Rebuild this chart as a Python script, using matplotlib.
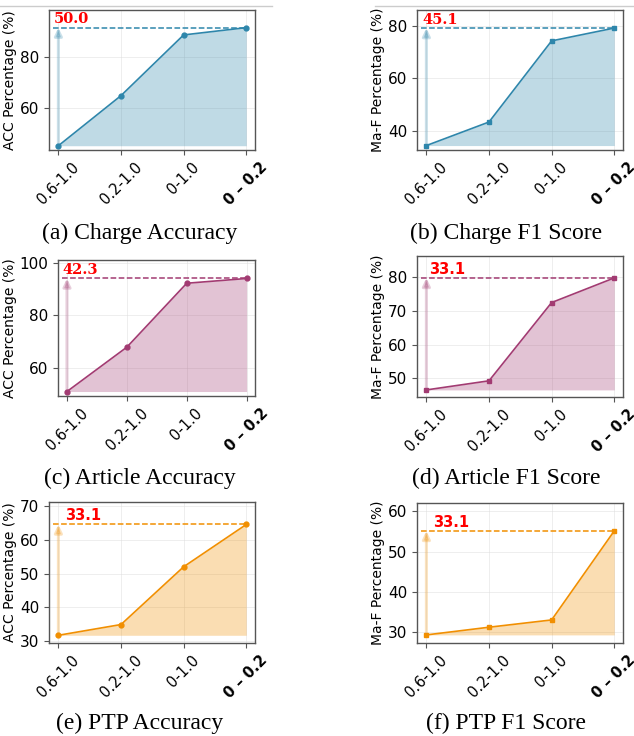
import numpy as np
import matplotlib
matplotlib.use("Agg")
import matplotlib.pyplot as plt
from matplotlib.lines import Line2D

# Data
buckets = ["0.6-1.0", "0.2-1.0", "0-1.0", "0 – 0.2"]

charge_acc = [44.9, 64.8, 88.9, 91.8]
charge_f1 = [34.3, 43.3, 74.3, 79.2]
article_acc = [51.2, 68.0, 92.2, 94.0]
article_f1 = [46.6, 49.3, 72.5, 79.8]
ptp_acc = [31.6, 34.8, 52.0, 64.6]
ptp_f1 = [29.4, 31.3, 33.1, 55.1]

gains = ["50.0", "45.1", "42.3", "33.1", "33.1", "33.1"]
captions = ["(a) Charge Accuracy", "(b) Charge F1 Score",
            "(c) Article Accuracy", "(d) Article F1 Score",
            "(e) PTP Accuracy", "(f) PTP F1 Score"]
ylabels = ["ACC Percentage (%)", "Ma-F Percentage (%)"] * 3
ylims = [(43.2, 98.8), (32.6, 86.1), (49.5, 101.0),
         (44.5, 86.3), (29.3, 71.3), (27.4, 62.0)]
yticks = [[60, 80], [40, 60, 80], [60, 80, 100],
          [50, 60, 70, 80], [30, 40, 50, 60, 70], [30, 40, 50, 60]]

series = [charge_acc, charge_f1, article_acc, article_f1, ptp_acc, ptp_f1]
colors = ["#2E86AB", "#2E86AB", "#A23B72", "#A23B72", "#F18F01", "#F18F01"]
markers = ["o", "s", "o", "s", "o", "s"]
gain_font = ["DejaVu Serif", "DejaVu Serif", "DejaVu Serif",
             "DejaVu Sans", "DejaVu Sans", "DejaVu Sans"]
gain_x = [-0.07, -0.07, -0.07, 0.04, 0.1, 0.1]

W, H = 634, 736
# axes boxes in pixels: left, top, right, bottom
boxes = [(49, 10, 255, 150), (417, 10, 623, 150),
         (58, 260, 255, 396), (417, 256, 623, 397),
         (49, 502, 255, 643), (417, 503, 623, 643)]
cap_pos = [(140, 233), (506, 233), (140, 478), (506, 478), (140, 723), (506, 723)]

fig = plt.figure(figsize=(W / 100, H / 100), dpi=100)

# thin rule at the top (from the page)
fig.add_artist(Line2D([0, 272 / W], [1 - 6 / H] * 2, color="#cccccc", lw=1))
fig.add_artist(Line2D([375 / W, 1], [1 - 6 / H] * 2, color="#cccccc", lw=1))

for i in range(6):
    l, t, r, b = boxes[i]
    ax = fig.add_axes([l / W, 1 - b / H, (r - l) / W, (b - t) / H])
    y = np.array(series[i])
    x = np.arange(len(y))
    c = colors[i]

    ax.fill_between(x, y, y.min(), color=c, alpha=0.3, lw=0)
    ax.plot(x, y, color=c, lw=1.2, marker=markers[i], markersize=3.5)
    ax.hlines(y.max(), -0.09, x[-1], colors=c, linestyles="--", lw=1.1)
    ax.annotate("", xy=(0, y.max()), xytext=(0, y.min()),
                arrowprops=dict(arrowstyle="-|>,head_width=0.22,head_length=0.45",
                                color=c, alpha=0.25, lw=2.2,
                                shrinkA=0, shrinkB=0))
    ax.text(gain_x[i], y.max() + (ylims[i][1] - ylims[i][0]) * 0.01, gains[i],
            color="red", fontsize=10.5, fontweight="bold", family=gain_font[i],
            ha="left", va="bottom")

    ax.set_xlim(-0.15, 3.14)
    ax.set_ylim(*ylims[i])
    ax.set_yticks(yticks[i])
    ax.set_xticks(x)
    ax.set_xticklabels(buckets, rotation=45, fontsize=10.5)
    ax.get_xticklabels()[-1].set_fontweight("bold")
    ax.tick_params(axis="y", labelsize=11)
    ax.tick_params(length=3.5, color="#555555")
    ax.set_ylabel(ylabels[i], fontsize=10, labelpad=2)
    ax.grid(True, color="#dddddd", lw=0.5, alpha=0.7)
    ax.set_axisbelow(True)
    for s in ax.spines.values():
        s.set_color("#555555")
        s.set_linewidth(1.0)

    cx, cy = cap_pos[i]
    fig.text(cx / W, 1 - cy / H, captions[i], ha="center", va="center",
             fontsize=17, family="Liberation Serif")

fig.savefig("out.png", dpi=100)
